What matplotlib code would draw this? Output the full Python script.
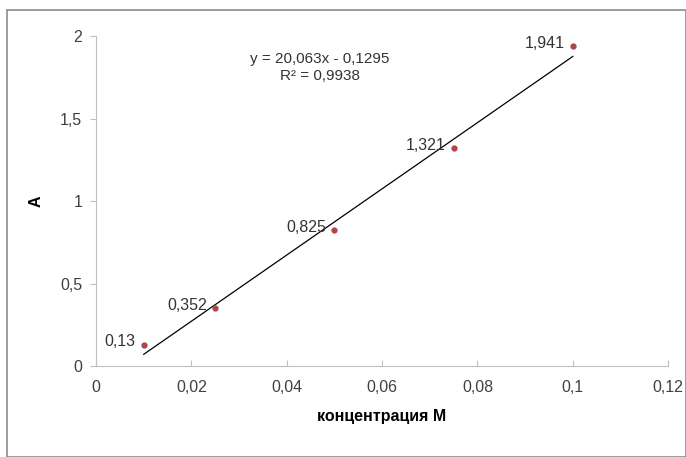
import matplotlib
matplotlib.use("Agg")
import matplotlib.pyplot as plt
from matplotlib.patches import Rectangle
import numpy as np

plt.rcParams['font.family'] = ['Liberation Sans Narrow', 'Liberation Sans', 'DejaVu Sans']

conc = [0.01, 0.025, 0.05, 0.075, 0.1]
absorb = [0.13, 0.352, 0.825, 1.321, 1.941]
point_labels = ["0,13", "0,352", "0,825", "1,321", "1,941"]
slope, intercept = 20.063, -0.1295
eq_text = "y = 20,063x - 0,1295\nR² = 0,9938"
xticks = [0, 0.02, 0.04, 0.06, 0.08, 0.1, 0.12]
xtick_labels = ["0", "0,02", "0,04", "0,06", "0,08", "0,1", "0,12"]
yticks = [0, 0.5, 1, 1.5, 2]
ytick_labels = ["0", "0,5", "1", "1,5", "2"]

fig = plt.figure(figsize=(6.86, 4.57), dpi=100)
fig.patches.append(Rectangle((0.010, 0.0), 0.99, 0.978, transform=fig.transFigure,
                             fill=False, edgecolor='#8c8c8c', linewidth=1.2))
ax = fig.add_axes([0.14, 0.199, 0.834, 0.722])

xs = np.array([conc[0], conc[-1]])
ax.plot(xs, slope * xs + intercept, color='black', linewidth=0.9)
ax.plot(conc, absorb, 'o', color='#b0454a', markersize=3.5)

for x, y, t in zip(conc, absorb, point_labels):
    ax.annotate(t, (x, y), xytext=(-6, 2), textcoords='offset points',
                ha='right', va='center', fontsize=11.5, color='#333333')

ax.text(0.047, 1.81, eq_text, ha='center', va='center', fontsize=11,
        color='#333333', linespacing=1.35)

ax.set_xlim(0, 0.12)
ax.set_ylim(0, 2)
ax.set_xticks(xticks)
ax.set_xticklabels(xtick_labels)
ax.set_yticks(yticks)
ax.set_yticklabels(ytick_labels)
ax.tick_params(axis='x', direction='in', length=4, color='#bfbfbf', labelsize=11.5,
               labelcolor='#404040', pad=10)
ax.tick_params(axis='y', direction='out', length=4, color='#bfbfbf', labelsize=11.5,
               labelcolor='#404040', pad=6)
for s in ['top', 'right']:
    ax.spines[s].set_visible(False)
for s in ['left', 'bottom']:
    ax.spines[s].set_color('#bfbfbf')

ax.set_xlabel("концентрация М", fontsize=11.5, fontweight='bold', labelpad=10)
ax.set_ylabel("A", fontsize=11.5, fontweight='bold', labelpad=12)

fig.savefig("out.png", dpi=100)
